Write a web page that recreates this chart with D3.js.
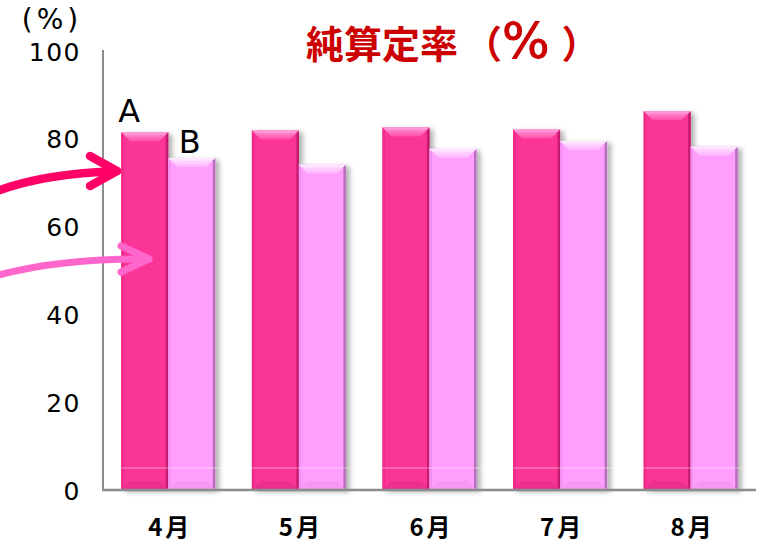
<!DOCTYPE html>
<html>
<head>
<meta charset="utf-8">
<script src="https://cdn.jsdelivr.net/npm/d3@7/dist/d3.min.js"></script>
<style>
  html, body { margin: 0; padding: 0; background: #fff; }
  svg { display: block; }
</style>
</head>
<body>
<svg id="chart" width="764" height="544"></svg>
<script>
// 月別の純算定率（A・B）
const months = ["4月", "5月", "6月", "7月", "8月"];
const seriesA = [81.5, 81.9, 82.6, 82.1, 86.3];
const seriesB = [75.6, 74.1, 77.7, 79.5, 78.2];
const seriesKeys = ["A", "B"];
const yTicks = [0, 20, 40, 60, 80, 100];

const svg = d3.select("#chart");
const left = 103, right = 756, baseY = 490, topY = 51;

const x = d3.scaleBand().domain(months).range([left, right])
  .paddingInner(0.28).paddingOuter(0.14);
const xs = d3.scaleBand().domain(seriesKeys).range([0, x.bandwidth()]);
const y = d3.scaleLinear().domain([0, 100]).range([baseY, topY]);

const defs = svg.append("defs");
const shadow = defs.append("filter").attr("id", "barShadow")
  .attr("x", "-20%").attr("y", "-10%").attr("width", "150%").attr("height", "130%");
shadow.append("feDropShadow").attr("dx", 4).attr("dy", 2)
  .attr("stdDeviation", 2.4).attr("flood-color", "#000").attr("flood-opacity", 0.3);

const palette = {
  A: { base: "#fb3596", top1: "#ff9ad6", top2: "#ff4ea8", side: "#c61a6e", bottom: "#e02b88", left: "#f0288a" },
  B: { base: "#ff9efd", top1: "#ffe6ff", top2: "#ffb4ff", side: "#b56fb9", bottom: "#ec94ec", left: "#f590f3" }
};
seriesKeys.forEach(k => {
  const g = defs.append("linearGradient").attr("id", "top" + k)
    .attr("x1", 0).attr("y1", 0).attr("x2", 0).attr("y2", 1);
  g.append("stop").attr("offset", "0%").attr("stop-color", palette[k].top1);
  g.append("stop").attr("offset", "100%").attr("stop-color", palette[k].top2);
});

// 縦軸
svg.append("line").attr("x1", left).attr("x2", left)
  .attr("y1", y(100) - 1).attr("y2", baseY)
  .attr("stroke", "#8c8c8c").attr("stroke-width", 2);

const yAxis = d3.axisLeft(y).tickValues(yTicks).tickSize(0).tickPadding(22);
const yg = svg.append("g").attr("transform", `translate(${left},0)`).call(yAxis);
yg.select(".domain").remove();
yg.selectAll("text")
  .attr("font-family", "'DejaVu Sans', sans-serif")
  .attr("font-size", 25).attr("fill", "#000")
  .attr("letter-spacing", 1.5)
  .attr("dy", "0.36em");

svg.append("text").attr("x", 52).attr("y", 29)
  .attr("text-anchor", "middle")
  .attr("font-family", "'DejaVu Sans', sans-serif")
  .attr("font-size", 28).attr("fill", "#000")
  .attr("letter-spacing", 4)
  .text("(%)");

// 棒
const data = months.map((m, i) => ({ month: m, A: seriesA[i], B: seriesB[i] }));
const bars = [];
data.forEach(d => seriesKeys.forEach(k => bars.push({ month: d.month, key: k, value: d[k] })));

const bw = xs.bandwidth();
const barG = svg.append("g").selectAll("g").data(bars).join("g")
  .attr("transform", d => `translate(${x(d.month) + xs(d.key)},${y(d.value)})`);

barG.each(function (d) {
  const g = d3.select(this);
  const h = baseY - y(d.value);
  const c = palette[d.key];
  const b = 9, s = 2.5;
  g.append("rect").attr("width", bw).attr("height", h)
    .attr("fill", c.base).attr("filter", "url(#barShadow)");
  // 上面の面取り
  g.append("polygon")
    .attr("points", [[0, 0], [bw, 0], [bw - b, b], [b, b]].join(" "))
    .attr("fill", `url(#top${d.key})`);
  g.append("rect").attr("width", bw).attr("height", 2.5).attr("fill", c.top1).attr("opacity", 0.8);
  // 下面の面取り
  g.append("polygon")
    .attr("points", [[0, h], [bw, h], [bw - b, h - b], [b, h - b]].join(" "))
    .attr("fill", c.bottom).attr("opacity", 0.6);
  // 側面
  g.append("polygon")
    .attr("points", [[bw, 0], [bw, h], [bw - s, h - s], [bw - s, s]].join(" "))
    .attr("fill", c.side);
  g.append("polygon")
    .attr("points", [[0, 0], [0, h], [s, h - s], [s, s]].join(" "))
    .attr("fill", c.left);
});

// 下部の反射線
svg.append("g").selectAll("line").data(months).join("line")
  .attr("x1", d => x(d) - 2).attr("x2", d => x(d) + x.bandwidth() + 6)
  .attr("y1", y(5)).attr("y2", y(5))
  .attr("stroke", "#fff").attr("stroke-opacity", 0.45).attr("stroke-width", 1);

// 基線
svg.append("line").attr("x1", left - 1).attr("x2", right)
  .attr("y1", baseY).attr("y2", baseY)
  .attr("stroke", "#8c8c8c").attr("stroke-width", 2.5);

// 月ラベル
svg.append("g").selectAll("text").data(months).join("text")
  .attr("x", d => x(d) + x.bandwidth() / 2 + 2)
  .attr("y", 536)
  .attr("text-anchor", "middle")
  .attr("font-family", "'Noto Sans CJK JP', sans-serif")
  .attr("font-weight", 700).attr("font-size", 24)
  .attr("letter-spacing", 3)
  .attr("fill", "#000")
  .text(d => d);

// 系列ラベル
const first = months[0];
svg.append("text")
  .attr("x", x(first) + xs("A") + 8).attr("y", y(seriesA[0]) - 10)
  .attr("text-anchor", "middle")
  .attr("font-family", "'DejaVu Sans', sans-serif").attr("font-size", 32)
  .attr("fill", "#000").text("A");
svg.append("text")
  .attr("x", x(first) + xs("B") + bw / 2 - 2).attr("y", y(seriesB[0]) - 5)
  .attr("text-anchor", "middle")
  .attr("font-family", "'DejaVu Sans', sans-serif").attr("font-size", 32)
  .attr("fill", "#000").text("B");

// タイトル
const title = svg.append("text").attr("x", 306).attr("y", 58)
  .attr("font-family", "'Noto Sans CJK JP', sans-serif")
  .attr("font-weight", 700).attr("font-size", 38)
  .attr("fill", "#cc0000");
title.append("tspan").text("純算定率");
title.append("tspan").attr("dx", 6).text("（");
title.append("tspan").attr("dx", 0)
  .attr("font-family", "'DejaVu Sans', sans-serif")
  .attr("font-weight", 400).attr("font-size", 50)
  .attr("stroke", "#cc0000").attr("stroke-width", 1)
  .text("%");
title.append("tspan").attr("dx", 12).text("）");

// 矢印
function arrow(x0, y0, cx, cy, tx, ty, armX, armDy, color, width) {
  const p = d3.path();
  p.moveTo(x0, y0);
  p.quadraticCurveTo(cx, cy, tx, ty);
  svg.append("path").attr("d", p.toString())
    .attr("fill", "none").attr("stroke", color)
    .attr("stroke-width", width).attr("stroke-linecap", "round");
  const h = d3.path();
  h.moveTo(tx - armX, ty - armDy);
  h.lineTo(tx, ty);
  h.lineTo(tx - armX, ty + armDy);
  svg.append("path").attr("d", h.toString())
    .attr("fill", "none").attr("stroke", color)
    .attr("stroke-width", width).attr("stroke-linecap", "round")
    .attr("stroke-linejoin", "round");
}
arrow(-5, 192, 40, 174, 117, 171, 27, 15, "#ff0066", 8.5);
arrow(-5, 276, 60, 258, 149, 259, 28, 13, "#ff66cc", 7);
</script>
</body>
</html>
